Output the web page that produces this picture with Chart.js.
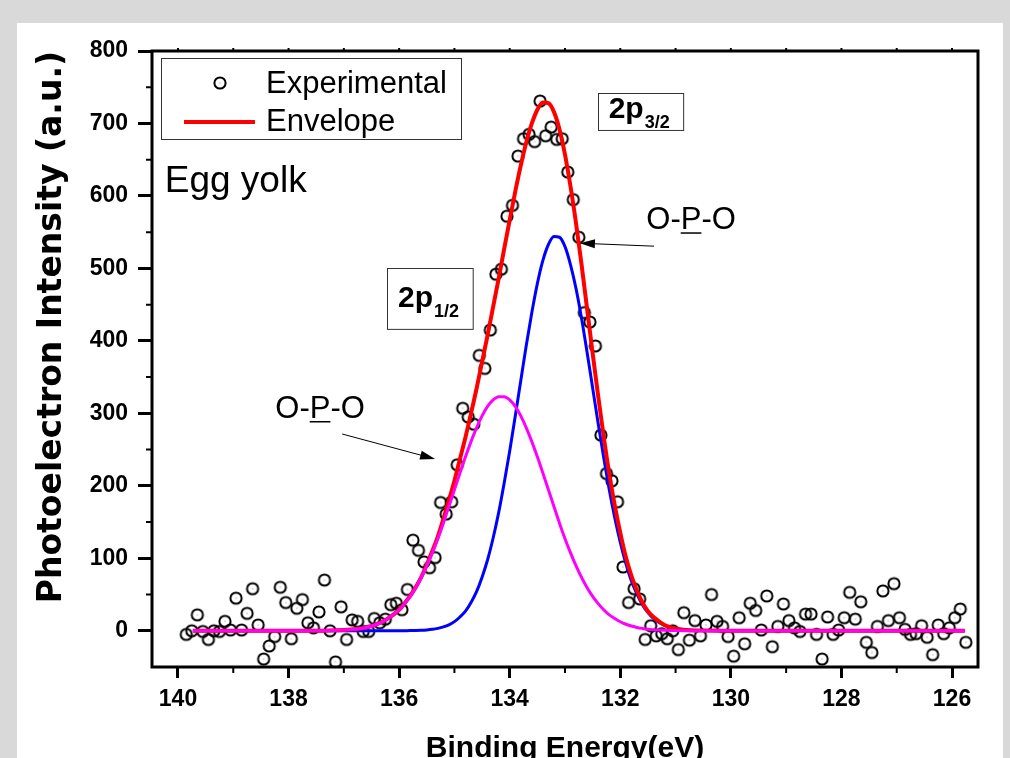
<!DOCTYPE html>
<html>
<head>
<meta charset="utf-8">
<title>P 2p XPS - Egg yolk</title>
<script src="https://cdn.jsdelivr.net/npm/chart.js@4.4.1/dist/chart.umd.min.js"></script>
<style>
  html, body { margin: 0; padding: 0; background: #d9d9d9; }
  #panel { position: absolute; left: 17px; top: 23px; width: 986px; height: 735px; background: #fff; }
  #wrap { position: absolute; left: 0; top: 0; width: 1010px; height: 758px; }
</style>
</head>
<body>
<div id="panel"></div>
<div id="wrap"><canvas id="chart" width="1010" height="758"></canvas></div>
<script>
const FONT = "'Liberation Sans', Arial, sans-serif";

// measured points (binding energy in eV, counts)
const energy = [
  139.85, 139.75, 139.65, 139.55, 139.45, 139.35, 139.25, 139.15, 139.05, 138.95,
  138.85, 138.75, 138.65, 138.55, 138.45, 138.35, 138.25, 138.15, 138.05, 137.95,
  137.85, 137.75, 137.65, 137.55, 137.45, 137.35, 137.25, 137.15, 137.05, 136.95,
  136.85, 136.75, 136.65, 136.55, 136.45, 136.35, 136.25, 136.15, 136.05, 135.95,
  135.85, 135.75, 135.65, 135.55, 135.45, 135.35, 135.25, 135.15, 135.05, 134.95,
  134.85, 134.75, 134.65, 134.55, 134.45, 134.35, 134.25, 134.15, 134.05, 133.95,
  133.85, 133.75, 133.65, 133.55, 133.45, 133.35, 133.25, 133.15, 133.05, 132.95,
  132.85, 132.75, 132.65, 132.55, 132.45, 132.35, 132.25, 132.15, 132.05, 131.95,
  131.85, 131.75, 131.65, 131.55, 131.45, 131.35, 131.25, 131.15, 131.05, 130.95,
  130.85, 130.75, 130.65, 130.55, 130.45, 130.35, 130.25, 130.15, 130.05, 129.95,
  129.85, 129.75, 129.65, 129.55, 129.45, 129.35, 129.25, 129.15, 129.05, 128.95,
  128.85, 128.75, 128.65, 128.55, 128.45, 128.35, 128.25, 128.15, 128.05, 127.95,
  127.85, 127.75, 127.65, 127.55, 127.45, 127.35, 127.25, 127.15, 127.05, 126.95,
  126.85, 126.75, 126.65, 126.55, 126.45, 126.35, 126.25, 126.15, 126.05, 125.95,
  125.85, 125.75
];
const intensity = [
  -5, 0, 22, -1, -12, 0, -1, 13, 1, 45,
  1, 24, 58, 8, -39, -21, -8, 60, 39, -11,
  31, 43, 11, 4, 26, 70, 0, -43, 33, -12,
  15, 13, -1, -1, 17, 11, 16, 36, 38, 29,
  57, 125, 111, 95, 87, 101, 177, 161, 178, 229,
  307, 295, 285, 380, 362, 415, 492, 499, 572, 587,
  655, 679, 685, 675, 731, 683, 695, 678, 679, 633,
  595, 543, 439, 426, 393, 270, 217, 207, 178, 88,
  39, 58, 44, -12, 7, -7, -4, -11, 0, -26,
  25, -13, 14, -7, 8, 50, 13, 6, -8, -35,
  18, -18, 38, 28, 1, 48, -22, 6, 37, 14,
  4, -1, 23, 23, -5, -39, 19, -5, 1, 18,
  53, 16, 40, -16, -30, 6, 55, 14, 65, 18,
  2, -5, -4, 7, -9, -33, 8, -4, 4, 18,
  30, -16
];

// fitted curves, read along the energy grid below
const curveEnergy = [
  139.73, 139, 138, 137.5, 137, 136.8, 136.6, 136.4, 136.2, 136.0,
  135.9, 135.8, 135.7, 135.6, 135.5, 135.4, 135.3, 135.2, 135.1, 135.0,
  134.9, 134.8, 134.7, 134.6, 134.5, 134.4, 134.3, 134.2, 134.1, 134.0,
  133.9, 133.8, 133.7, 133.6, 133.5, 133.4, 133.3, 133.2, 133.1, 133.0,
  132.9, 132.8, 132.7, 132.6, 132.5, 132.4, 132.3, 132.2, 132.1, 132.0,
  131.9, 131.8, 131.7, 131.6, 131.5, 131.4, 131.3, 131.2, 131.1, 131.0,
  130.8, 130.5, 130, 129, 128, 127, 126, 125.77
];
const envelope = [
  0, 0, 0, 0, 1, 2, 4.5, 9, 17, 29,
  38, 48, 60, 74, 91, 110, 130, 154, 180, 207,
  237, 267, 300, 334, 371, 408, 447, 486, 527, 567,
  606, 642, 674, 700, 719, 729, 728, 716, 692, 657,
  613, 562, 505, 444, 383, 324, 268, 217, 173, 135,
  102, 76, 56, 39, 27, 19, 13, 8, 5, 3,
  1, 0.2, 0, 0, 0, 0, 0, 0
];
const peak32 = [
  0, 0, 0, 0, 0, 0, 0, 0, 0, 0,
  0.1, 0.2, 0.4, 0.7, 1.2, 2, 3.3, 5.3, 8.2, 12.6,
  19, 27, 39, 54, 74, 98, 128, 163, 204, 248,
  296, 345, 394, 439, 479, 511, 533, 544, 543, 530,
  505, 472, 431, 384, 335, 286, 239, 195, 156, 122,
  93, 69, 51, 36, 25, 17, 11.6, 7.6, 4.8, 3,
  1.1, 0.2, 0, 0, 0, 0, 0, 0
];
const peak12 = [
  0, 0, 0, 0, 1, 2, 4.5, 9, 17, 29,
  37.5, 47.5, 59.5, 73.5, 89.5, 107.5, 127, 148.5, 171.5, 194.5,
  217.5, 240, 261, 280, 296.5, 309.5, 318.5, 323, 323, 318.5,
  309.5, 296.5, 280, 261, 240, 217.5, 194.5, 171.5, 148.5, 127,
  107.5, 89.5, 73.5, 59.5, 47.5, 37.5, 29, 22, 17, 12.5,
  9, 6.5, 4.5, 3.2, 2.2, 1.5, 1, 0.7, 0.5, 0.3,
  0.1, 0, 0, 0, 0, 0, 0, 0
];

const xTicks = [126, 128, 130, 132, 134, 136, 138, 140];
const xMinor = [127, 129, 131, 133, 135, 137, 139];
const yTicks = [0, 100, 200, 300, 400, 500, 600, 700, 800];
const yMinor = [50, 150, 250, 350, 450, 550, 650, 750];

// hollow circle with a tiny centre dot, like the original marker
const marker = document.createElement("canvas");
marker.width = 16;
marker.height = 16;
(function () {
    const m = marker.getContext("2d");
    m.strokeStyle = "#000";
    m.lineWidth = 2;
    m.beginPath();
    m.arc(8, 8, 5.6, 0, Math.PI * 2);
    m.stroke();
    m.fillStyle = "#888";
    m.fillRect(7.5, 7.5, 1, 1);
})();

const pts = (xs, ys) => xs.map((x, i) => ({ x: x, y: ys[i] }));

function arrow(ctx, x1, y1, x2, y2) {
    const a = Math.atan2(y2 - y1, x2 - x1);
    const len = 15, half = 4.5;
    ctx.strokeStyle = "#000";
    ctx.fillStyle = "#000";
    ctx.lineWidth = 1;
    ctx.beginPath();
    ctx.moveTo(x1, y1);
    ctx.lineTo(x2 - Math.cos(a) * len * 0.8, y2 - Math.sin(a) * len * 0.8);
    ctx.stroke();
    ctx.beginPath();
    ctx.moveTo(x2, y2);
    ctx.lineTo(x2 - Math.cos(a) * len - Math.sin(a) * half, y2 - Math.sin(a) * len + Math.cos(a) * half);
    ctx.lineTo(x2 - Math.cos(a) * len + Math.sin(a) * half, y2 - Math.sin(a) * len - Math.cos(a) * half);
    ctx.closePath();
    ctx.fill();
}

function opo(ctx, cx, base) {
    ctx.font = "31px " + FONT;
    ctx.fillStyle = "#000";
    ctx.textAlign = "left";
    ctx.textBaseline = "alphabetic";
    const full = ctx.measureText("O-P-O").width;
    const x0 = cx - full / 2;
    ctx.fillText("O-P-O", x0, base);
    const a = ctx.measureText("O-").width;
    const b = ctx.measureText("O-P").width;
    ctx.fillRect(x0 + a, base + 3, b - a, 1.5);
}

function subLabel(ctx, x, base, main, sub) {
    ctx.fillStyle = "#000";
    ctx.textAlign = "left";
    ctx.textBaseline = "alphabetic";
    ctx.font = "bold 30px " + FONT;
    ctx.fillText(main, x, base);
    const w = ctx.measureText(main).width;
    ctx.font = "bold 18px " + FONT;
    ctx.fillText(sub, x + w + 1, base + 10);
}

const decorations = {
    id: "decorations",
    afterDraw(chart) {
        const ctx = chart.ctx;
        const xs = chart.scales.x, ys = chart.scales.y;
        const area = chart.chartArea;
        const X = v => xs.getPixelForValue(v);
        const Y = v => ys.getPixelForValue(v);
        ctx.save();

        // frame
        ctx.strokeStyle = "#000";
        ctx.lineWidth = 3;
        ctx.strokeRect(area.left, area.top, area.right - area.left, area.bottom - area.top);

        // minor ticks, plus the short marks on the top edge
        ctx.lineWidth = 2;
        ctx.beginPath();
        xMinor.forEach(v => { ctx.moveTo(X(v), area.bottom); ctx.lineTo(X(v), area.bottom + 6); });
        yMinor.forEach(v => { ctx.moveTo(area.left - 6, Y(v)); ctx.lineTo(area.left, Y(v)); });
        xMinor.concat(xTicks).forEach(v => { ctx.moveTo(X(v), area.top - 3); ctx.lineTo(X(v), area.top); });
        ctx.stroke();

        // legend
        const L = area.left + 9, T = area.top + 7;
        ctx.fillStyle = "#fff";
        ctx.fillRect(L, T, 300, 81);
        ctx.strokeStyle = "#333";
        ctx.lineWidth = 1;
        ctx.strokeRect(L + 0.5, T + 0.5, 300, 81);
        ctx.drawImage(marker, L + 59 - 8, T + 25 - 8);
        ctx.strokeStyle = "#ff0000";
        ctx.lineWidth = 4;
        ctx.beginPath();
        ctx.moveTo(L + 23, T + 64);
        ctx.lineTo(L + 94, T + 64);
        ctx.stroke();
        ctx.fillStyle = "#000";
        ctx.font = "31px " + FONT;
        ctx.textAlign = "left";
        ctx.textBaseline = "alphabetic";
        ctx.fillText("Experimental", L + 105, T + 35);
        ctx.fillText("Envelope", L + 105, T + 73);

        // sample name
        ctx.font = "37px " + FONT;
        ctx.fillText("Egg yolk", X(140.24), Y(605));

        // component boxes
        ctx.strokeStyle = "#333";
        ctx.lineWidth = 1;
        ctx.strokeRect(Math.round(X(136.22)) + 0.5, Math.round(Y(500.3)) + 0.5, X(134.67) - X(136.22), Y(416.3) - Y(500.3));
        subLabel(ctx, X(136.02), Y(446.6), "2p", "1/2");
        ctx.strokeStyle = "#333";
        ctx.lineWidth = 1;
        ctx.strokeRect(Math.round(X(132.41)) + 0.5, Math.round(Y(741.6)) + 0.5, X(130.87) - X(132.41), Y(690.6) - Y(741.6));
        subLabel(ctx, X(132.21), Y(707), "2p", "3/2");

        // O-P-O labels with arrows
        opo(ctx, X(130.72), Y(554));
        arrow(ctx, X(131.39), Y(530.7), X(132.73), Y(534.8));
        opo(ctx, X(137.43), Y(293.6));
        arrow(ctx, X(137.03), Y(271.5), X(135.35), Y(237));

        ctx.restore();
    }
};

new Chart(document.getElementById("chart"), {
    type: "scatter",
    data: {
        datasets: [
            {
                label: "Experimental",
                data: pts(energy, intensity),
                pointStyle: marker,
                pointRadius: 6,
                pointHoverRadius: 6,
                showLine: false,
                order: 4
            },
            {
                label: "Envelope",
                data: pts(curveEnergy, envelope),
                showLine: true,
                borderColor: "#ff0000",
                borderWidth: 4,
                pointRadius: 0,
                cubicInterpolationMode: "monotone",
                order: 2
            },
            {
                label: "2p3/2",
                data: pts(curveEnergy, peak32),
                showLine: true,
                borderColor: "#0000ff",
                borderWidth: 3,
                pointRadius: 0,
                cubicInterpolationMode: "monotone",
                order: 3
            },
            {
                label: "2p1/2",
                data: pts(curveEnergy, peak12),
                showLine: true,
                borderColor: "#ff00ff",
                borderWidth: 3,
                pointRadius: 0,
                cubicInterpolationMode: "monotone",
                order: 1
            }
        ]
    },
    options: {
        responsive: false,
        animation: false,
        devicePixelRatio: 1,
        layout: { padding: { left: 0, top: 51, right: 32, bottom: 0 } },
        plugins: { legend: { display: false }, tooltip: { enabled: false } },
        scales: {
            x: {
                type: "linear",
                reverse: true,
                min: 125.53,
                max: 140.47,
                afterBuildTicks: s => { s.ticks = xTicks.map(v => ({ value: v })); },
                afterFit: s => { s.height = 91; },
                grid: { drawOnChartArea: false, drawTicks: true, tickLength: 11, tickWidth: 3, tickColor: "#000" },
                border: { display: false },
                ticks: {
                    font: { family: FONT, size: 23, weight: "bold" },
                    color: "#000",
                    padding: 8,
                    maxRotation: 0,
                    autoSkip: false
                },
                title: {
                    display: true,
                    text: "Binding Energy(eV)",
                    color: "#000",
                    font: { family: FONT, size: 30, weight: "bold", lineHeight: 0.6 },
                    padding: { top: 0, bottom: 0 }
                }
            },
            y: {
                min: -50,
                max: 800,
                afterBuildTicks: s => { s.ticks = yTicks.map(v => ({ value: v })); },
                afterFit: s => { s.width = 152; },
                grid: { drawOnChartArea: false, drawTicks: true, tickLength: 14, tickWidth: 3, tickColor: "#000" },
                border: { display: false },
                ticks: {
                    font: { family: FONT, size: 23, weight: "bold" },
                    color: "#000",
                    padding: 10,
                    autoSkip: false
                },
                title: {
                    display: true,
                    text: "Photoelectron Intensity (a.u.)",
                    color: "#000",
                    align: "end",
                    font: { family: "'DejaVu Sans', sans-serif", size: 33, weight: "bold", lineHeight: 0.6 },
                    padding: { top: 43, bottom: 0 }
                }
            }
        }
    },
    plugins: [decorations]
});
</script>
</body>
</html>
